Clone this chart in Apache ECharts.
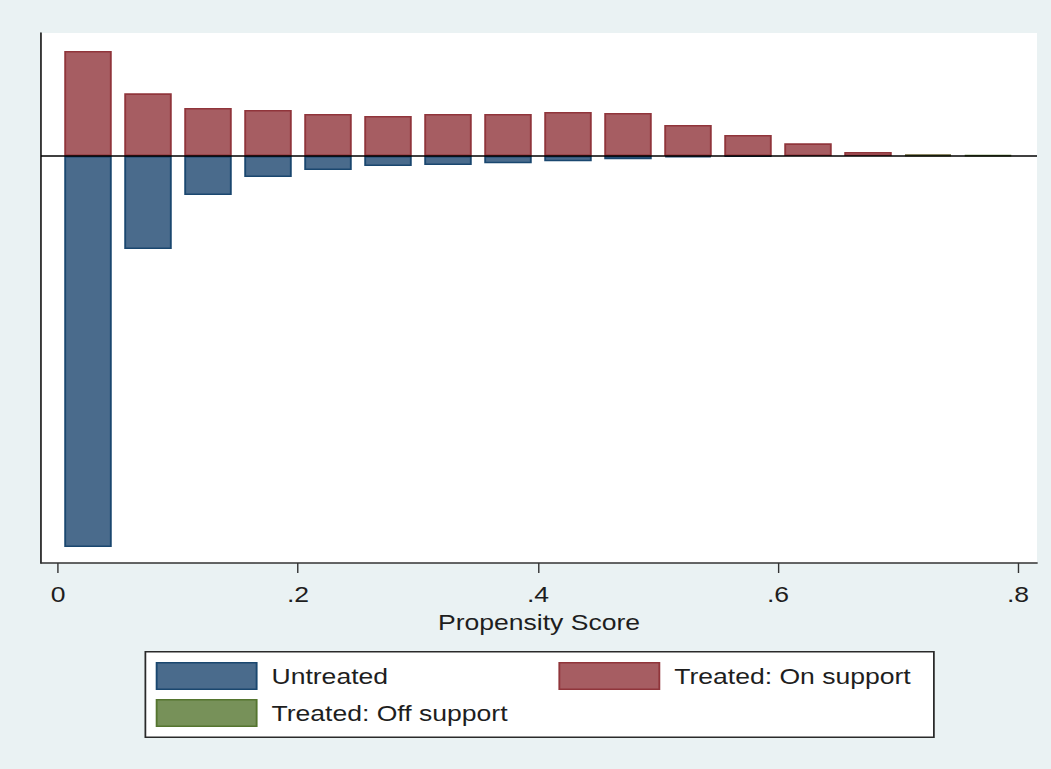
<!DOCTYPE html>
<html>
<head>
<meta charset="utf-8">
<script src="https://cdn.jsdelivr.net/npm/echarts@6/dist/echarts.min.js"></script>
<style>
  html, body { margin: 0; padding: 0; background: #EAF2F3; overflow: hidden; }
  /* The chart is laid out in a narrower box and widened, which gives the text its broad look */
  #wrap { width: 1051px; height: 769px; overflow: hidden; }
  #chart { width: 898.29px; height: 769px; transform: scaleX(1.17); transform-origin: 0 0; }
</style>
</head>
<body>
<div id="wrap"><div id="chart"></div></div>
<script>
// Propensity-score histogram: bins of width 0.05, treated drawn upward, untreated downward
const binCenters = [0.025, 0.075, 0.125, 0.175, 0.225, 0.275, 0.325, 0.375,
                    0.425, 0.475, 0.525, 0.575, 0.625, 0.675, 0.725, 0.775];
const untreated  = [-39.1, -9.3, -3.9, -2.1, -1.4, -1.0, -0.9, -0.73,
                    -0.53, -0.33, -0.15, -0.03, 0, 0, 0, 0];
const treatedOn  = [10.5, 6.27, 4.8, 4.6, 4.2, 4.0, 4.2, 4.2,
                    4.4, 4.3, 3.1, 2.1, 1.27, 0.4, 0.12, 0];
const treatedOff = [0, 0, 0, 0, 0, 0, 0, 0,
                    0, 0, 0, 0, 0, 0, 0.12, 0.08];
const xTickValues = [0, 0.2, 0.4, 0.6, 0.8];
const xTickLabels = ['0', '.2', '.4', '.6', '.8'];
const seriesNames = ['Untreated', 'Treated: On support', 'Treated: Off support'];

const SX = 1.17;                 // horizontal widening of the chart box
const px = v => v / SX;          // screen x-distance -> layout x-distance

const FONT = "'Liberation Sans', Arial, Helvetica, sans-serif";
const FS = 22.7;
const TEXT = '#1e1e1e';

const colors = {
  untreated: { fill: '#4A6B8C', border: '#1A476F' },
  on:        { fill: '#A65D62', border: '#90353B' },
  off:       { fill: '#779159', border: '#55752F' }
};

const toPairs = vals => binCenters.map((x, i) => vals[i] === 0 ? [x, '-'] : [x, vals[i]]);

const barCommon = {
  type: 'bar',
  stack: 'ps',
  barWidth: px(47.5),
  animation: false
};

function legendAt(name, c, left, top) {
  return {
    show: true,
    data: [{ name: name, icon: 'rect',
             itemStyle: { color: c.fill, borderColor: c.border, borderWidth: 1.6 } }],
    left: px(left), top: top,
    orient: 'horizontal',
    padding: 0,
    itemWidth: px(100), itemHeight: 26.5,
    selectedMode: false,
    textStyle: { fontFamily: FONT, fontSize: FS, color: TEXT, padding: [0, 0, 0, px(9)] }
  };
}

const chart = echarts.init(document.getElementById('chart'), null, {
  renderer: 'svg', width: 1051 / SX, height: 769
});

chart.setOption({
  backgroundColor: '#EAF2F3',
  animation: false,
  grid: {
    left: px(41), right: 1051 / SX - px(1037), top: 33, bottom: 769 - 563,
    show: true, backgroundColor: '#ffffff', borderWidth: 0,
    containLabel: false
  },
  xAxis: {
    type: 'value',
    min: (41 - 58) / 1200,
    max: (1037 - 58) / 1200,
    splitLine: { show: false },
    axisLine: { show: true, onZero: false, lineStyle: { color: '#333', width: 1.6 } },
    axisTick: { show: true, length: 10, customValues: xTickValues, lineStyle: { color: '#333', width: 1.2 } },
    axisLabel: {
      show: true, customValues: xTickValues, margin: 20,
      fontFamily: FONT, fontSize: FS, color: TEXT,
      formatter: v => xTickLabels[xTickValues.findIndex(t => Math.abs(t - v) < 1e-9)]
    },
    name: 'Propensity Score',
    nameLocation: 'middle',
    nameGap: 37,
    nameTextStyle: { fontFamily: FONT, fontSize: FS, color: TEXT }
  },
  yAxis: {
    type: 'value',
    min: -40.7, max: 12.3,
    splitLine: { show: false },
    axisLine: { show: true, onZero: false, lineStyle: { color: '#333', width: 1.6 } },
    axisTick: { show: false },
    axisLabel: { show: false }
  },
  legend: [
    legendAt(seriesNames[0], colors.untreated, 155.7, 662),
    legendAt(seriesNames[1], colors.on, 558.4, 662),
    legendAt(seriesNames[2], colors.off, 155.7, 699)
  ],
  graphic: [{
    type: 'rect',
    left: px(144.5), top: 651,
    shape: { width: px(933 - 144.5), height: 85.5 },
    style: { fill: '#ffffff', stroke: '#2a2a2a', lineWidth: 1.5 },
    z: -1
  }],
  series: [
    Object.assign({}, barCommon, {
      name: seriesNames[0],
      data: toPairs(untreated),
      itemStyle: { color: colors.untreated.fill, borderColor: colors.untreated.border, borderWidth: 1.6 }
    }),
    Object.assign({}, barCommon, {
      name: seriesNames[1],
      data: toPairs(treatedOn),
      itemStyle: { color: colors.on.fill, borderColor: colors.on.border, borderWidth: 1.6 }
    }),
    Object.assign({}, barCommon, {
      name: seriesNames[2],
      data: toPairs(treatedOff),
      itemStyle: { color: colors.off.fill, borderColor: colors.off.border, borderWidth: 1.6 },
      markLine: {
        silent: true,
        symbol: ['none', 'none'],
        label: { show: false },
        lineStyle: { color: '#000', width: 1.6, type: 'solid' },
        data: [{ yAxis: 0 }]
      }
    })
  ]
});
</script>
</body>
</html>
